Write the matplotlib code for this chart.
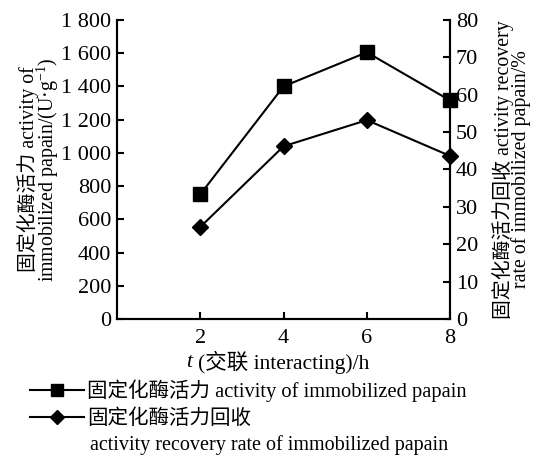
import numpy as np
import matplotlib
matplotlib.use('Agg')
import matplotlib.pyplot as plt
from matplotlib.ticker import FuncFormatter

plt.rcParams['font.family'] = ['Liberation Serif', 'Noto Sans CJK SC']
plt.rcParams['mathtext.fontset'] = 'custom'
plt.rcParams['mathtext.rm'] = 'Liberation Serif'
plt.rcParams['mathtext.it'] = 'Liberation Serif:italic'

# data
t_hours = [2, 4, 6, 8]
activity = [750, 1400, 1605, 1315]          # U/g, left axis
recovery = [24.6, 46.2, 53.2, 43.6]         # %, right axis

label_act = '固定化酶活力 activity of immobilized papain'
label_rec = '固定化酶活力回收'
label_rec2 = 'activity recovery rate of immobilized papain'

fig = plt.figure(figsize=(5.34, 4.74), dpi=100)
ax = fig.add_axes([0.219, 0.327, 0.624, 0.631])
ax2 = ax.twinx()

fs_tick = 16
fs_ylab = 14.3
fs_xlab = 15.5
fs_leg = 14.8
l1, = ax.plot(t_hours, activity, color='black', lw=1.5, marker='s', ms=10,
              clip_on=False, label=label_act)
l2, = ax2.plot(t_hours, recovery, color='black', lw=1.5, marker='D', ms=8.5,
               clip_on=False, label=label_rec)

ax.set_xlim(0, 8)
ax.set_ylim(0, 1800)
ax2.set_ylim(0, 80)
ax.set_xticks([2, 4, 6, 8])
ax.set_yticks(np.arange(0, 1801, 200))
ax2.set_yticks(np.arange(0, 81, 10))
ax.yaxis.set_major_formatter(FuncFormatter(lambda v, p: f'{int(v):,}'.replace(',', ' ')))

for a in (ax, ax2):
    a.spines['top'].set_visible(False)
    for s in a.spines.values():
        s.set_linewidth(1.5)
    a.tick_params(direction='in', length=5, width=1.5, labelsize=fs_tick, pad=4)
ax.tick_params(axis='x', pad=7)

ax.set_ylabel('固定化酶活力 activity of\nimmobilized papain/(U·g$^{-1}$)', fontsize=fs_ylab,
              linespacing=0.8, labelpad=0)
ax2.set_ylabel('固定化酶活力回收 activity recovery\nrate of immobilized papain/%', fontsize=fs_ylab,
               linespacing=0.8, labelpad=10)
ax.set_xlabel('(交联 interacting)/h', fontsize=fs_xlab, labelpad=2)
ax.annotate('t', xy=(0, 0.5), xycoords=ax.xaxis.label, xytext=(-4, 0),
            textcoords='offset points', ha='right', va='center',
            fontsize=fs_xlab, style='italic')

fig.legend(handles=[l1, l2], loc='upper left', bbox_to_anchor=(0.056, 0.2),
           frameon=False, fontsize=fs_leg, handlelength=2.65, handletextpad=0.15,
           labelspacing=0.38, borderaxespad=0, borderpad=0, markerscale=0.8)
fig.text(0.169, 0.061, label_rec2, fontsize=14.5, ha='left', va='center')

fig.savefig('out.png', dpi=100)
